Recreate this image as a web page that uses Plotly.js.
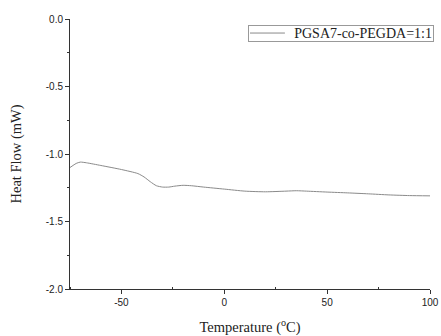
<!DOCTYPE html>
<html>
<head>
<meta charset="utf-8">
<script src="https://cdn.plot.ly/plotly-3.0.1.min.js"></script>
<style>html,body{margin:0;padding:0;background:#fff;}#chart{width:441px;height:336px;}</style>
</head>
<body>
<div id="chart"></div>
<script>
const seriesName = "PGSA7-co-PEGDA=1:1";
const temperature = [-75, -72, -70, -67, -60, -50, -42, -39, -36, -33, -30, -27, -24, -20, -16, -10, 0, 10, 20, 30, 35, 40, 50, 60, 70, 80, 90, 100];
const heatFlow = [-1.10, -1.07, -1.06, -1.065, -1.085, -1.115, -1.145, -1.17, -1.205, -1.235, -1.245, -1.245, -1.238, -1.232, -1.235, -1.245, -1.26, -1.275, -1.28, -1.275, -1.272, -1.275, -1.282, -1.288, -1.295, -1.303, -1.308, -1.31];
const xTicks = [-50, 0, 50, 100];
const yTicks = [0, -0.5, -1.0, -1.5, -2.0];
const yTickLabels = ["0.0", "-0.5", "-1.0", "-1.5", "-2.0"];

const lineColor = '#8a8a8a';
const trace = {
  x: temperature, y: heatFlow, type: 'scatter', mode: 'lines', name: seriesName,
  line: {color: lineColor, width: 1, shape: 'spline', smoothing: 0.6},
  showlegend: false
};
const serif = 'Liberation Serif, DejaVu Serif, serif';
// legend box drawn as a bordered annotation with a sample line
const legY = 0.948;
const layout = {
  width: 441, height: 336,
  margin: {l: 70, r: 11, t: 19, b: 47},
  paper_bgcolor: '#fff', plot_bgcolor: '#fff',
  showlegend: false,
  annotations: [{
    xref: 'paper', yref: 'paper', x: 1.011, y: legY, xanchor: 'right', yanchor: 'middle',
    text: seriesName, showarrow: false, align: 'right', width: 182, height: 13,
    bordercolor: '#999', borderwidth: 1, borderpad: 1,
    font: {family: serif, size: 14, color: '#222'}
  }],
  shapes: [{
    type: 'line', xref: 'paper', yref: 'paper', x0: 0.5, x1: 0.597, y0: legY, y1: legY,
    line: {color: lineColor, width: 1}
  }],
  xaxis: {
    range: [-75, 100], tickvals: xTicks, ticktext: xTicks.map(String),
    showgrid: false, zeroline: false, showline: true, linecolor: '#333', linewidth: 1,
    ticks: 'outside', ticklen: 4, tickcolor: '#333',
    minor: {tickvals: [-75, -25, 25, 75], ticks: 'inside', ticklen: 2, tickcolor: '#333'},
    tickfont: {family: 'Liberation Sans, Arial, sans-serif', size: 10, color: '#222'},
    title: {text: 'Temperature (<sup>o</sup>C)', standoff: 14,
      font: {family: serif, size: 14.5, color: '#222'}}
  },
  yaxis: {
    range: [-2.0, 0.0], tickvals: yTicks, ticktext: yTickLabels,
    showgrid: false, zeroline: false, showline: true, linecolor: '#333', linewidth: 1,
    ticks: 'outside', ticklen: 4, tickcolor: '#333',
    minor: {tickvals: [-0.25, -0.75, -1.25, -1.75], ticks: 'outside', ticklen: 2, tickcolor: '#333'},
    tickfont: {family: 'Liberation Sans, Arial, sans-serif', size: 10, color: '#222'},
    title: {text: 'Heat Flow (mW)', standoff: 20,
      font: {family: serif, size: 14.5, color: '#222'}}
  }
};
Plotly.newPlot('chart', [trace], layout, {displayModeBar: false, staticPlot: true});
</script>
</body>
</html>
